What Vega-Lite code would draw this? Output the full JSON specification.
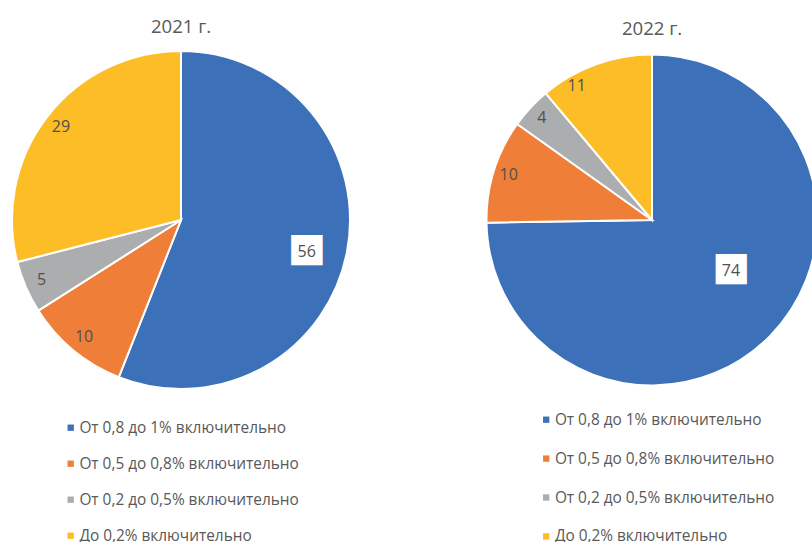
{
  "$schema": "https://vega.github.io/schema/vega-lite/v6.json",
  "autosize": {"type": "pad"},
  "padding": {"left": 8, "top": 18, "right": 0, "bottom": 0},
  "background": "white",
  "config": {
    "view": {"stroke": null},
    "font": "Open Sans",
    "concat": {"spacing": 128.5},
    "title": {"fontSize": 18.6, "fontWeight": "normal", "color": "#595959", "font": "Open Sans"},
    "legend": {
      "orient": "none",
      "title": null,
      "symbolType": "square",
      "symbolSize": 40,
      "symbolStrokeWidth": 0,
      "labelFontSize": 15.4,
      "labelColor": "#595959",
      "labelFont": "Open Sans",
      "labelOffset": 1,
      "labelLimit": 400,
      "padding": 0
    }
  },
  "datasets": {
    "y2021": [
      {"cat": "От 0,8 до 1% включительно", "idx": 1, "value": 56},
      {"cat": "От 0,5 до 0,8% включительно", "idx": 2, "value": 10},
      {"cat": "От 0,2 до 0,5% включительно", "idx": 3, "value": 5},
      {"cat": "До 0,2% включительно", "idx": 4, "value": 29}
    ],
    "y2022": [
      {"cat": "От 0,8 до 1% включительно", "idx": 1, "value": 74},
      {"cat": "От 0,5 до 0,8% включительно", "idx": 2, "value": 10},
      {"cat": "От 0,2 до 0,5% включительно", "idx": 3, "value": 4},
      {"cat": "До 0,2% включительно", "idx": 4, "value": 11}
    ]
  },
  "hconcat": [
    {
      "title": {"text": "2021 г.", "offset": 10},
      "width": 338,
      "height": 338,
      "data": {"name": "y2021"},
      "encoding": {
        "theta": {"field": "value", "type": "quantitative", "stack": true},
        "order": {"field": "idx", "type": "quantitative"}
      },
      "layer": [
        {
          "mark": {"type": "arc", "outerRadius": 169, "stroke": "white", "strokeWidth": 2},
          "encoding": {
            "color": {
              "field": "cat", "type": "nominal", "sort": null,
              "scale": {
                "domain": ["От 0,8 до 1% включительно", "От 0,5 до 0,8% включительно", "От 0,2 до 0,5% включительно", "До 0,2% включительно"],
                "range": ["#3C71B9", "#EE7E38", "#ABADAE", "#FDBD27"]
              },
              "legend": {"legendX": 51, "legendY": 369, "rowPadding": 19.0}
            }
          }
        },
        {
          "mark": {"type": "text", "radius": 128, "font": "DejaVu Sans Mono", "fontSize": 25.5, "color": "white", "dy": 7},
          "encoding": {
            "text": {"condition": {"test": "datum.idx == 1", "value": "██"}, "value": ""}
          }
        },
        {
          "mark": {"type": "text", "radius": 128, "fontSize": 16, "color": "#505050", "dy": 8},
          "encoding": {
            "text": {"condition": {"test": "datum.idx == 1", "field": "value", "type": "quantitative"}, "value": ""}
          }
        },
        {
          "mark": {"type": "text", "radius": 152, "fontSize": 16, "color": "#505050"},
          "encoding": {
            "text": {"condition": {"test": "datum.idx != 1", "field": "value", "type": "quantitative"}, "value": ""}
          }
        }
      ]
    },
    {
      "title": {"text": "2022 г.", "offset": 12},
      "width": 331,
      "height": 338,
      "data": {"name": "y2022"},
      "encoding": {
        "theta": {"field": "value", "type": "quantitative", "stack": true},
        "order": {"field": "idx", "type": "quantitative"}
      },
      "layer": [
        {
          "mark": {"type": "arc", "outerRadius": 165.5, "stroke": "white", "strokeWidth": 2},
          "encoding": {
            "color": {
              "field": "cat", "type": "nominal", "sort": null,
              "scale": {
                "domain": ["От 0,8 до 1% включительно", "От 0,5 до 0,8% включительно", "От 0,2 до 0,5% включительно", "До 0,2% включительно"],
                "range": ["#3C71B9", "#EE7E38", "#ABADAE", "#FDBD27"]
              },
              "legend": {"legendX": 52, "legendY": 361, "rowPadding": 21.9}
            }
          }
        },
        {
          "mark": {"type": "text", "radius": 94, "font": "DejaVu Sans Mono", "fontSize": 25.5, "color": "white", "dx": 12, "dy": -16},
          "encoding": {
            "text": {"condition": {"test": "datum.idx == 1", "value": "██"}, "value": ""}
          }
        },
        {
          "mark": {"type": "text", "radius": 94, "fontSize": 16, "color": "#505050", "dx": 12, "dy": -15},
          "encoding": {
            "text": {"condition": {"test": "datum.idx == 1", "field": "value", "type": "quantitative"}, "value": ""}
          }
        },
        {
          "mark": {"type": "text", "radius": 150, "fontSize": 16, "color": "#505050"},
          "encoding": {
            "text": {"condition": {"test": "datum.idx == 2 || datum.idx == 3", "field": "value", "type": "quantitative"}, "value": ""}
          }
        },
        {
          "mark": {"type": "text", "radius": 150, "fontSize": 16, "color": "#505050", "dx": -24, "dy": 7},
          "encoding": {
            "text": {"condition": {"test": "datum.idx == 4", "field": "value", "type": "quantitative"}, "value": ""}
          }
        }
      ]
    }
  ],
  "resolve": {
    "scale": {"color": "independent", "theta": "independent"},
    "legend": {"color": "independent"}
  }
}
